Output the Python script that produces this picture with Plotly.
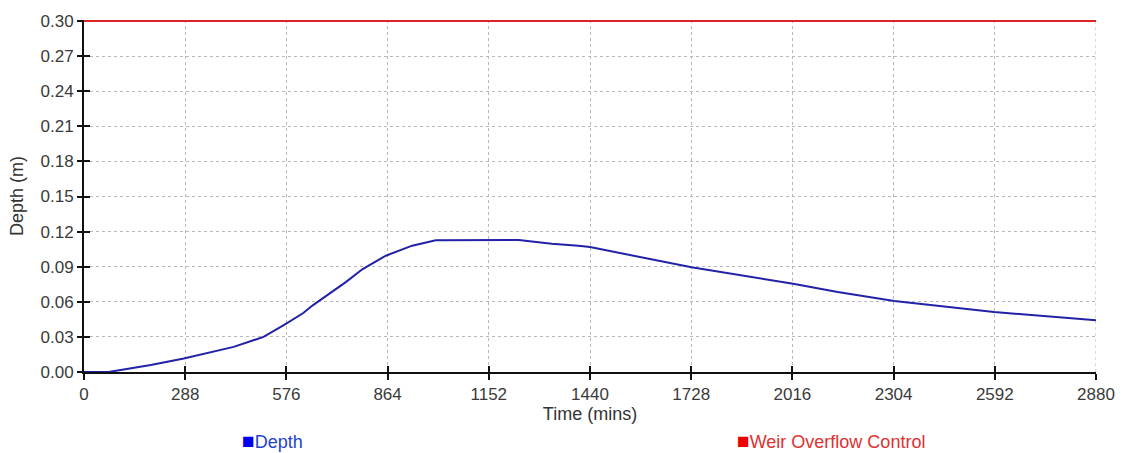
import plotly.graph_objects as go

# Simulated storage depth over a 48-hour storm (time in minutes, depth in metres)
time_mins = [0, 70, 190, 284, 426, 511, 572, 624, 651, 745, 793, 859, 934, 1001,
             1237, 1331, 1407, 1440, 1729, 2018, 2145, 2306, 2590, 2880]
depth_m = [0.0, 0.0, 0.006, 0.0116, 0.0215, 0.030, 0.0408, 0.0504, 0.057, 0.0768,
           0.088, 0.0994, 0.108, 0.1126, 0.1128, 0.1096, 0.108, 0.1068, 0.0895,
           0.0754, 0.0683, 0.0606, 0.0513, 0.0442]

# Weir overflow control level
weir_time = [0, 2880]
weir_level = [0.30, 0.30]

x_ticks = [0, 288, 576, 864, 1152, 1440, 1728, 2016, 2304, 2592, 2880]
y_ticks = [0.00, 0.03, 0.06, 0.09, 0.12, 0.15, 0.18, 0.21, 0.24, 0.27, 0.30]
y_tick_labels = [f"{v:.2f}" for v in y_ticks]

DEPTH_LINE = "#2222a8"
WEIR_LINE = "#e02424"
GRID = "#b8b8b8"
FONT = "Liberation Sans, Arial, sans-serif"
TICK_FONT = dict(family=FONT, size=17, color="#3a3a3a")
TITLE_FONT = dict(family=FONT, size=18, color="#333333")
X_RANGE = [0, 2880]
Y_RANGE = [0, 0.3009]

fig = go.Figure()

fig.add_trace(go.Scatter(x=weir_time, y=weir_level, mode="lines",
                         line=dict(color=WEIR_LINE, width=2),
                         name="Weir Overflow Control", showlegend=False,
                         hoverinfo="skip"))
fig.add_trace(go.Scatter(x=time_mins, y=depth_m, mode="lines",
                         line=dict(color=DEPTH_LINE, width=2),
                         name="Depth", showlegend=False))

# Invisible trace on overlay axes that carry the inward half of each tick
fig.add_trace(go.Scatter(x=X_RANGE, y=[0, 0], xaxis="x2", yaxis="y2",
                         mode="lines", line=dict(width=0), opacity=0,
                         showlegend=False, hoverinfo="skip"))

fig.update_layout(
    width=1127, height=453,
    margin=dict(l=84, r=28, t=19, b=81),
    paper_bgcolor="white", plot_bgcolor="white",
    font=dict(family=FONT, size=17, color="#3a3a3a"),
    xaxis=dict(
        range=X_RANGE, tickvals=x_ticks, ticktext=[str(v) for v in x_ticks],
        showgrid=True, gridcolor=GRID, gridwidth=1, griddash="3px,3px",
        showline=True, linecolor="#111111", linewidth=2,
        ticks="outside", ticklen=6, tickwidth=2, tickcolor="#111111",
        tickfont=TICK_FONT, zeroline=False,
        title=dict(text="Time (mins)", font=TITLE_FONT, standoff=2),
    ),
    yaxis=dict(
        range=Y_RANGE, tickvals=y_ticks, ticktext=y_tick_labels,
        showgrid=True, gridcolor=GRID, gridwidth=1, griddash="3px,3px",
        showline=True, linecolor="#111111", linewidth=2,
        ticks="outside", ticklen=5, tickwidth=2, tickcolor="#111111",
        tickfont=TICK_FONT, zeroline=False,
        title=dict(text="Depth (m)", font=TITLE_FONT, standoff=12),
    ),
    xaxis2=dict(
        overlaying="x", range=X_RANGE, tickvals=x_ticks, showticklabels=False,
        showgrid=False, zeroline=False, showline=False,
        ticks="inside", ticklen=6, tickwidth=2, tickcolor="#111111",
        side="bottom",
    ),
    yaxis2=dict(
        overlaying="y", range=Y_RANGE, tickvals=y_ticks[:-1], showticklabels=False,
        showgrid=False, zeroline=False, showline=False,
        ticks="inside", ticklen=6, tickwidth=2, tickcolor="#111111",
        side="left",
    ),
    showlegend=False,
)

# Right-hand dotted boundary at the end of the time axis
fig.add_shape(type="line", xref="x", yref="paper", x0=2880, x1=2880, y0=0, y1=1,
              line=dict(color=GRID, width=1, dash="3px,3px"), layer="below")

# Legend row beneath the axis title
legend_items = [
    ("Depth", "#0000ee", "#2244cc", 0.154),
    ("Weir Overflow Control", "#ee0000", "#e03030", 0.643),
]
for label, swatch, text_color, xpos in legend_items:
    fig.add_annotation(xref="paper", yref="paper", x=xpos, y=-0.195,
                       xanchor="left", yanchor="middle", showarrow=False,
                       text=(f"<span style='color:{swatch};font-size:21px'>■</span>"
                             f"{label}"),
                       font=dict(family=FONT, size=18, color=text_color))

fig.write_html("out.html")
